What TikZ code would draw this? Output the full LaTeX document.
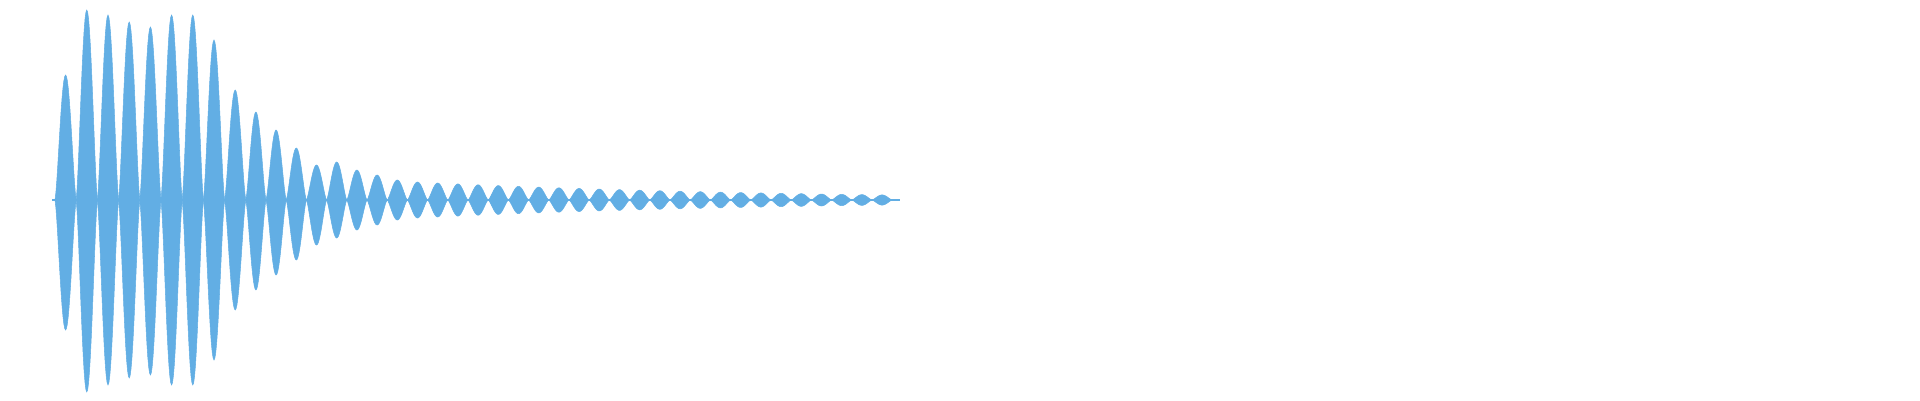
\documentclass[tikz,border=0pt]{standalone}
\usetikzlibrary{positioning}
\definecolor{wave}{HTML}{62AEE4}
\tikzset{lobe/.style={fill=wave,draw=wave,line width=0.3pt}}
\begin{document}
\begin{tikzpicture}[x=0.02cm,y=-0.02cm]
  \useasboundingbox (0,0) rectangle (1920,400);
  % centre line
  \draw[wave,line width=0.6pt] (52,200) -- (900,200);
  % first lobes
  \foreach \k/\a/\b in {0/125/130,1/190/192,2/185/185,3/178/178,4/173/175,
      5/185/185,6/185/185,7/160/160,8/110/110}{
    \pgfmathsetmacro\xo{55+21.2*\k}
    \fill[lobe] plot[domain=0:1,samples=25] ({\xo+21.2*\x},{200-\a*sin(180*\x)^1.4})
      -- plot[domain=1:0,samples=25] ({\xo+21.2*\x},{200+\b*sin(180*\x)^1.4}) -- cycle;
  }
  \foreach \k/\a/\b in {9/88/90,10/70/75,11/52/60,
      12/35/45,13/38/38,14/30/30,15/25/25,16/20/20,17/18/18,18/17/17}{
    \pgfmathsetmacro\xo{245.8+20.2*(\k-9)}
    \fill[lobe] plot[domain=0:1,samples=25] ({\xo+20.2*\x},{200-\a*sin(180*\x)^1.4})
      -- plot[domain=1:0,samples=25] ({\xo+20.2*\x},{200+\b*sin(180*\x)^1.4}) -- cycle;
  }
  % decaying tail
  \foreach \k in {19,...,40}{
    \pgfmathsetmacro\xo{245.8+20.2*(\k-9)}
    \pgfmathsetmacro\a{17*exp(-(\k-18)*0.055)}
    \fill[lobe] plot[domain=0:1,samples=25] ({\xo+20.2*\x},{200-\a*sin(180*\x)^1.4})
      -- plot[domain=1:0,samples=25] ({\xo+20.2*\x},{200+\a*sin(180*\x)^1.4}) -- cycle;
  }
\end{tikzpicture}
\end{document}
